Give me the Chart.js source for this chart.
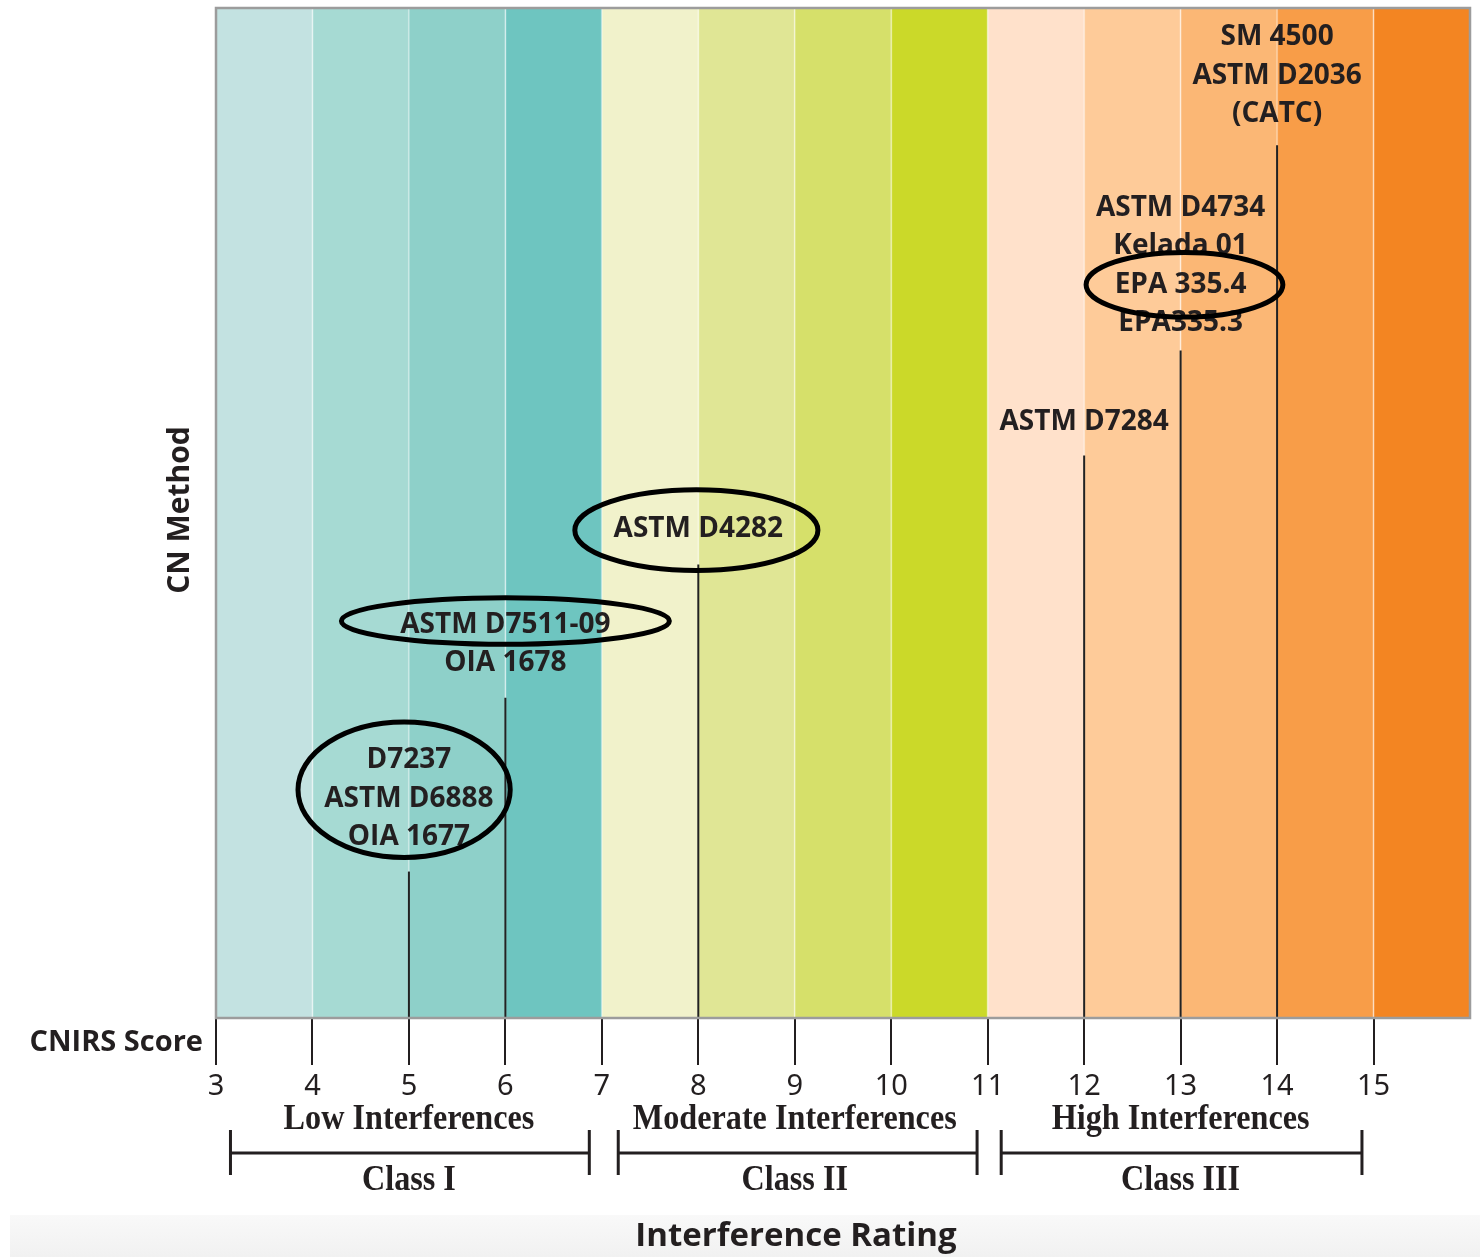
<!DOCTYPE html>
<html>
<head>
<meta charset="utf-8">
<script src="https://cdn.jsdelivr.net/npm/chart.js@4.4.0/dist/chart.umd.min.js"></script>
<style>
  body { margin: 0; background: #fff; }
  #wrap { width: 1480px; height: 1257px; }
</style>
</head>
<body>
<div id="wrap"><canvas id="cnChart"></canvas></div>
<script>
// score bands 3..16 and their colours
const bandEdges = [3, 4, 5, 6, 7, 8, 9, 10, 11, 12, 13, 14, 15, 16];
const bandColors = ['#c3e2e1', '#a6dad3', '#8ed0c9', '#6ec5c0',
                    '#f1f2cb', '#e0e695', '#d6e06a', '#cbd929',
                    '#ffe1cb', '#fecb99', '#fbb775', '#f89d48', '#f38522'];
const tickValues = [3, 4, 5, 6, 7, 8, 9, 10, 11, 12, 13, 14, 15];

// methods: CNIRS score, height of leader line, label lines
const methodScores = [5, 6, 8, 12, 13, 14];
const lineTops = [14.5, 31.7, 44.9, 55.7, 66.1, 86.4];
const labelBase = [17.9, 35.1, 48.4, 59.0, 68.8, 89.5];
const methodLabels = [
  ['D7237', 'ASTM D6888', 'OIA 1677'],
  ['ASTM D7511-09', 'OIA 1678'],
  ['ASTM D4282'],
  ['ASTM D7284'],
  ['ASTM D4734', 'Kelada 01', 'EPA 335.4', 'EPA335.3'],
  ['SM 4500', 'ASTM D2036', '(CATC)']
];

// circled methods: centre x, centre y, radius x, radius y (data units)
const circleX = [4.95, 6.0, 7.98, 13.04];
const circleY = [22.6, 39.3, 48.3, 72.6];
const circleRx = [1.10, 1.70, 1.26, 1.02];
const circleRy = [6.7, 2.3, 4.0, 3.2];

// interference classes
const classNames = ['Class I', 'Class II', 'Class III'];
const classRatings = ['Low Interferences', 'Moderate Interferences', 'High Interferences'];
const classCenters = [5, 9, 13];
const classStart = [3.15, 7.17, 11.14];
const classEnd = [6.87, 10.89, 14.88];

const datasets = [];
methodScores.forEach((s, i) => {
  datasets.push({
    data: [{ x: s, y: 0 }, { x: s, y: lineTops[i] }],
    showLine: true, borderColor: '#222', borderWidth: 2,
    pointRadius: 0, fill: false, order: 0
  });
});
bandColors.forEach((c, i) => {
  datasets.push({
    data: [{ x: bandEdges[i], y: 100 }, { x: bandEdges[i + 1], y: 100 }],
    showLine: true, borderWidth: 0, borderColor: 'rgba(0,0,0,0)',
    backgroundColor: c, fill: 'origin', pointRadius: 0, order: 1
  });
});

const sans = '"Open Sans", "Noto Sans", sans-serif';
const serif = '"Liberation Serif", "DejaVu Serif", serif';

// condensed serif text, like the original's Times bold
function squeezeText(ctx, text, x, y, sx) {
  ctx.save();
  ctx.translate(x, y);
  ctx.scale(sx, 1);
  ctx.fillText(text, 0, 0);
  ctx.restore();
}

const decor = {
  id: 'decor',
  beforeDraw(chart) {
    const ctx = chart.ctx;
    ctx.save();
    const g = ctx.createLinearGradient(0, 1215, 0, 1257);
    g.addColorStop(0, '#f9f9f9');
    g.addColorStop(1, '#f1f1f1');
    ctx.fillStyle = g;
    ctx.fillRect(10, 1215, 1470, 42);
    ctx.restore();
  },
  beforeDatasetsDraw(chart) {
    // faint light seams between bands
    const { ctx, chartArea, scales: { x } } = chart;
    ctx.save();
    ctx.strokeStyle = 'rgba(255,255,255,0.3)';
    ctx.lineWidth = 2;
    bandEdges.slice(1, -1).forEach(v => {
      const px = x.getPixelForValue(v);
      ctx.beginPath();
      ctx.moveTo(px, chartArea.top);
      ctx.lineTo(px, chartArea.bottom);
      ctx.stroke();
    });
    ctx.restore();
  },
  afterDatasetsDraw(chart) {
    const { ctx, scales: { x, y } } = chart;
    ctx.save();
    ctx.fillStyle = '#231f20';
    ctx.textAlign = 'center';
    ctx.textBaseline = 'middle';
    ctx.font = 'bold 28px ' + sans;
    methodLabels.forEach((lines, i) => {
      const px = x.getPixelForValue(methodScores[i]);
      const base = y.getPixelForValue(labelBase[i]);
      lines.forEach((t, j) => {
        ctx.fillText(t, px, base - (lines.length - 1 - j) * 38.5);
      });
    });
    ctx.strokeStyle = '#000';
    ctx.lineWidth = 5;
    circleX.forEach((cx, i) => {
      const px = x.getPixelForValue(cx);
      const py = y.getPixelForValue(circleY[i]);
      const rx = x.getPixelForValue(cx + circleRx[i]) - px;
      const ry = py - y.getPixelForValue(circleY[i] + circleRy[i]);
      ctx.beginPath();
      ctx.ellipse(px, py, rx, ry, 0, 0, Math.PI * 2);
      ctx.stroke();
    });
    ctx.restore();
  },
  afterDraw(chart) {
    const { ctx, chartArea, scales: { x } } = chart;
    ctx.save();
    // plot frame
    ctx.strokeStyle = '#9c9c9c';
    ctx.lineWidth = 2.5;
    ctx.strokeRect(chartArea.left, chartArea.top, chartArea.right - chartArea.left, chartArea.bottom - chartArea.top);

    ctx.fillStyle = '#231f20';
    ctx.font = 'bold 29px ' + sans;
    ctx.textAlign = 'right';
    ctx.textBaseline = 'middle';
    ctx.fillText('CNIRS Score', 203, 1043);

    // y title
    ctx.save();
    ctx.translate(180, 510);
    ctx.rotate(-Math.PI / 2);
    ctx.textAlign = 'center';
    ctx.font = 'bold 30px ' + sans;
    ctx.fillText('CN Method', 0, 0);
    ctx.restore();

    // class brackets
    ctx.textAlign = 'center';
    ctx.font = 'bold 35px ' + serif;
    ctx.strokeStyle = '#231f20';
    ctx.lineWidth = 3;
    classNames.forEach((n, i) => {
      const cx = x.getPixelForValue(classCenters[i]);
      squeezeText(ctx, classRatings[i], cx, 1120, 0.92);
      squeezeText(ctx, n, cx, 1181, 0.92);
      const a = x.getPixelForValue(classStart[i]);
      const b = x.getPixelForValue(classEnd[i]);
      ctx.beginPath();
      ctx.moveTo(a, 1153); ctx.lineTo(b, 1153);
      ctx.moveTo(a, 1130); ctx.lineTo(a, 1175);
      ctx.moveTo(b, 1130); ctx.lineTo(b, 1175);
      ctx.stroke();
    });

    ctx.font = 'bold 33px ' + sans;
    ctx.fillText('Interference Rating', 796, 1237);
    ctx.restore();
  }
};

new Chart(document.getElementById('cnChart'), {
  type: 'scatter',
  data: { datasets: datasets },
  options: {
    responsive: true,
    maintainAspectRatio: false,
    animation: false,
    layout: { padding: { left: 216, right: 10, top: 8, bottom: 0 } },
    plugins: {
      legend: { display: false },
      tooltip: { enabled: false },
      filler: { drawTime: 'beforeDatasetsDraw' }
    },
    scales: {
      x: {
        type: 'linear', min: 3, max: 16,
        afterBuildTicks: (s) => { s.ticks = tickValues.map(v => ({ value: v })); },
        afterFit: (s) => { s.height = 239; },
        border: { display: false },
        grid: { drawOnChartArea: false, drawTicks: true, tickLength: 47, color: '#231f20', lineWidth: 2 },
        ticks: {
          color: '#231f20', padding: 4, maxRotation: 0, autoSkip: false,
          font: { family: '"Liberation Sans Narrow", "Noto Sans", sans-serif', size: 29 }
        }
      },
      y: { type: 'linear', min: 0, max: 100, display: false }
    }
  },
  plugins: [decor]
});
</script>
</body>
</html>
